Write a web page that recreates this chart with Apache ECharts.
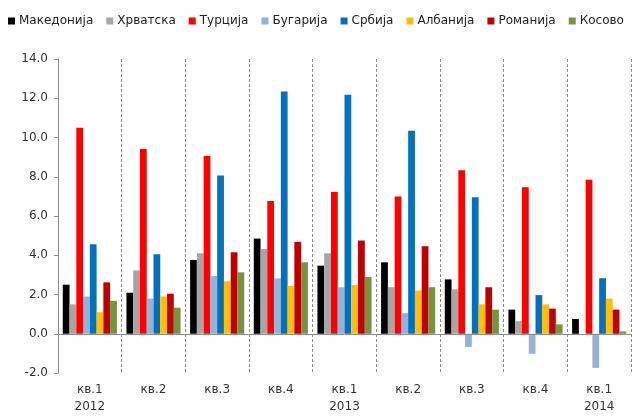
<!DOCTYPE html>
<html>
<head>
<meta charset="utf-8">
<script src="https://cdn.jsdelivr.net/npm/echarts@6/dist/echarts.min.js"></script>
<style>
  html, body { margin: 0; padding: 0; background: #fff; }
  #chart { width: 636px; height: 417px; }
</style>
</head>
<body>
<div id="chart"></div>
<script>
// Quarters on the category axis
const quarters = ['кв.1\n2012', 'кв.2', 'кв.3', 'кв.4', 'кв.1\n2013', 'кв.2', 'кв.3', 'кв.4', 'кв.1\n2014'];

// Quarterly values per country
const makedonija = [2.50, 2.09, 3.76, 4.85, 3.47, 3.64, 2.77, 1.23, 0.75];
const hrvatska   = [1.50, 3.23, 4.10, 4.32, 4.10, 2.37, 2.26, 0.64, 0];
const turcija    = [10.50, 9.42, 9.06, 6.76, 7.22, 7.00, 8.33, 7.46, 7.85];
const bugarija   = [1.90, 1.79, 2.94, 2.82, 2.37, 1.05, -0.68, -1.02, -1.74];
const srbija     = [4.56, 4.05, 8.07, 12.35, 12.18, 10.34, 6.95, 1.97, 2.83];
const albanija   = [1.10, 1.90, 2.67, 2.43, 2.48, 2.20, 1.50, 1.50, 1.79];
const romanija   = [2.62, 2.04, 4.15, 4.68, 4.75, 4.46, 2.37, 1.28, 1.23];
const kosovo     = [1.68, 1.33, 3.13, 3.64, 2.89, 2.37, 1.23, 0.48, 0.12];

// Y-axis range and step
const yMin = -2, yMax = 14, yStep = 2;

const countries = [
  { name: 'Македонија', data: makedonija, color: '#000000' },
  { name: 'Хрватска',   data: hrvatska,   color: '#A6A6A6' },
  { name: 'Турција',    data: turcija,    color: '#FF0000' },
  { name: 'Бугарија',   data: bugarija,   color: '#95B3D7' },
  { name: 'Србија',     data: srbija,     color: '#0070C0' },
  { name: 'Албанија',   data: albanija,   color: '#FFC000' },
  { name: 'Романија',   data: romanija,   color: '#C00000' },
  { name: 'Косово',     data: kosovo,     color: '#77933C' }
];

const font = 'DejaVu Sans, Verdana, sans-serif';

const series = countries.map((c, i) => {
  const s = {
    name: c.name,
    type: 'bar',
    data: c.data,
    barGap: '0%',
    barCategoryGap: '15%',
    itemStyle: { color: c.color },
    emphasis: { disabled: true }
  };
  if (i === 0) {
    // horizontal zero line across the plot
    s.markLine = {
      silent: true,
      symbol: ['none', 'none'],
      label: { show: false },
      lineStyle: { color: '#8C8C8C', type: 'solid', width: 1 },
      data: [{ yAxis: 0 }]
    };
  }
  return s;
});

const chart = echarts.init(document.getElementById('chart'), null, { renderer: 'canvas' });
chart.setOption({
  animation: false,
  backgroundColor: '#ffffff',
  color: countries.map(c => c.color),
  legend: {
    top: 10,
    left: 3,
    itemWidth: 7,
    itemHeight: 7,
    itemGap: 13,
    icon: 'rect',
    textStyle: { fontFamily: font, fontSize: 12, color: '#222', padding: [0, 0, 0, -1] },
    data: countries.map(c => c.name)
  },
  grid: { left: 58, right: 5, top: 59, bottom: 44, containLabel: false },
  xAxis: {
    type: 'category',
    data: quarters,
    axisLine: { show: false, onZero: false },
    axisTick: { show: false },
    axisLabel: {
      interval: 0,
      margin: 8,
      fontFamily: font,
      fontSize: 12,
      color: '#333',
      lineHeight: 17
    },
    splitLine: {
      show: true,
      interval: 0,
      lineStyle: { color: '#8C8C8C', type: [3, 2], width: 1 }
    }
  },
  yAxis: {
    type: 'value',
    min: yMin,
    max: yMax,
    interval: yStep,
    axisLine: { show: true, lineStyle: { color: '#8C8C8C' } },
    axisTick: { show: true, length: 4, lineStyle: { color: '#8C8C8C' } },
    splitLine: { show: false },
    axisLabel: {
      margin: 10,
      fontFamily: font,
      fontSize: 12,
      color: '#333',
      formatter: v => v.toFixed(1)
    }
  },
  series: series
});
</script>
</body>
</html>
